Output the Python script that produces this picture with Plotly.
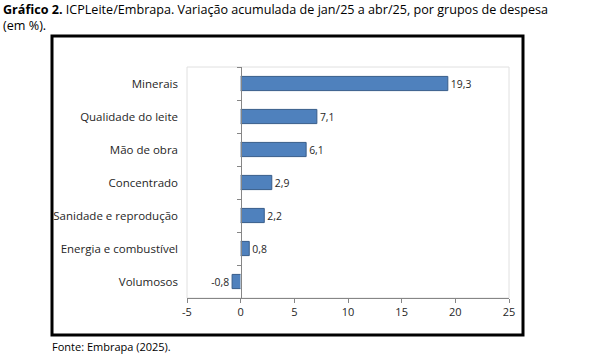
import plotly.graph_objects as go

categories = ["Minerais", "Qualidade do leite", "Mão de obra", "Concentrado",
              "Sanidade e reprodução", "Energia e combustível", "Volumosos"]
values = [19.3, 7.1, 6.1, 2.9, 2.2, 0.8, -0.8]
x_ticks = [-5, 0, 5, 10, 15, 20, 25]

labels = [f"{v:.1f}".replace(".", ",") for v in values]

W, H = 596, 360
L, R, T, B = 187, 509, 67, 298
pw, ph = R - L, B - T

FONT = "Open Sans"

fig = go.Figure()
fig.add_trace(go.Bar(
    y=categories, x=values, orientation="h",
    marker=dict(color="#4F81BD", line=dict(color="#385D8A", width=1)),
    text=labels, textposition="outside", cliponaxis=False,
    textfont=dict(family=FONT, size=11, color="#262626"),
    yaxis="y",
))
# invisible trace for overlay axis at x=0
fig.add_trace(go.Bar(y=categories, x=[0]*len(categories), orientation="h",
                     yaxis="y2", showlegend=False, hoverinfo="skip",
                     marker=dict(color="rgba(0,0,0,0)")))

zero_pos = (0 - (-5)) / 30

fig.update_layout(
    width=W, height=H,
    margin=dict(l=L, r=W - R, t=T, b=H - B),
    paper_bgcolor="white", plot_bgcolor="white",
    showlegend=False, bargap=0.57, barmode="overlay",
    font=dict(family=FONT, size=11, color="#262626"),
    xaxis=dict(range=[-5, 25], tickvals=x_ticks,
               ticktext=[str(t) for t in x_ticks],
               showgrid=False, zeroline=False, showline=True,
               linecolor="#868686", linewidth=1,
               ticks="outside", ticklen=4, tickcolor="#868686",
               tickfont=dict(family=FONT, size=11, color="#262626"),
               fixedrange=True),
    yaxis=dict(categoryorder="array", categoryarray=categories[::-1],
               showgrid=False, zeroline=False, showline=False,
               ticks="", ticklabelstandoff=8,
               tickfont=dict(family=FONT, size=11.5, color="#262626")),
    yaxis2=dict(overlaying="y", matches="y", anchor="free", position=zero_pos,
                showticklabels=False, showline=True, linecolor="#868686",
                linewidth=1, ticks="outside", ticklen=4, tickcolor="#868686",
                tickson="boundaries", showgrid=False, zeroline=False,
                categoryorder="array", categoryarray=categories[::-1]),
)

# plot-area faint border
fig.add_shape(type="rect", xref="x domain", yref="y domain", x0=0, x1=1, y0=0, y1=1,
              line=dict(color="#E0E0E0", width=1), layer="below")
# outer black frame
bx0, bx1, by0, by1 = 52, 523, 36, 335
fig.add_shape(type="rect", xref="paper", yref="paper",
              x0=(bx0 - L) / pw, x1=(bx1 - L) / pw,
              y0=(B - by1) / ph, y1=(B - by0) / ph,
              line=dict(color="black", width=3))

fig.add_annotation(
    text="<b>Gráfico 2.</b> ICPLeite/Embrapa. Variação acumulada de jan/25 a abr/25, por grupos de despesa<br>(em %).",
    xref="paper", yref="paper", x=(1 - L) / pw, y=(B + 1) / ph,
    xanchor="left", yanchor="top", align="left", showarrow=False,
    font=dict(family=FONT, size=12.6, color="#000000"))

fig.add_annotation(text="Fonte: Embrapa (2025).", xref="paper", yref="paper",
                   x=(50 - L) / pw, y=(B - 337) / ph, xanchor="left", yanchor="top",
                   showarrow=False, font=dict(family=FONT, size=11, color="#000000"))

fig.write_html("out.html", config={"displayModeBar": False},
               post_script="document.body.style.margin='0px';")
